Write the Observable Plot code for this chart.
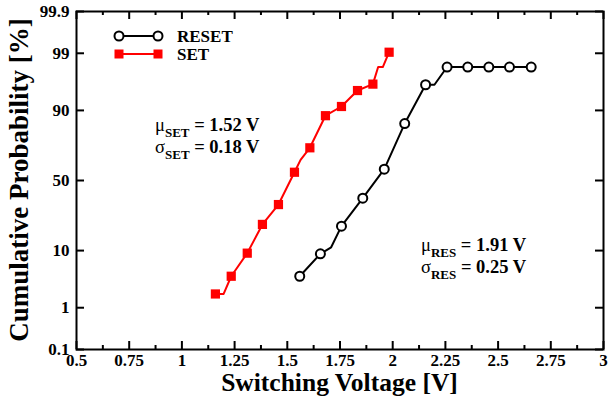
<!DOCTYPE html>
<html><head><meta charset="utf-8">
<script src="https://cdn.jsdelivr.net/npm/d3@7"></script>
<script src="https://cdn.jsdelivr.net/npm/@observablehq/plot@0.6"></script>
<style>body{margin:0;background:#fff}</style>
</head><body><div id="chart"></div>
<script>
// ---- data ----
const resetV = [1.559, 1.657, 1.757, 1.858, 1.960, 2.057, 2.156, 2.258, 2.356, 2.456, 2.554, 2.657];
const resetP = [4.0, 9.0, 20.2, 37.3, 58.2, 85.1, 96.0, 98.1, 98.1, 98.1, 98.1, 98.1];
const setV = [1.159, 1.234, 1.310, 1.382, 1.458, 1.534, 1.607, 1.681, 1.757, 1.833, 1.906, 1.983];
const setP = [1.9, 4.0, 9.2, 21.1, 33.0, 56.0, 72.5, 88.2, 91.2, 95.0, 96.1, 99.05];
// extra vertices of the connecting lines (small steps between markers)
const resetKinkV = [1.708, 2.198];
const resetKinkP = [11.1, 96.0];
const setKinkV = [1.198, 1.563, 1.931, 1.953];
const setKinkP = [1.9, 64.7, 98.1, 98.1];
const xTickVals = [0.5, 0.75, 1, 1.25, 1.5, 1.75, 2, 2.25, 2.5, 2.75, 3];
const xTickLabels = ["0.5", "0.75", "1", "1.25", "1.5", "1.75", "2", "2.25", "2.5", "2.75", "3"];
const xMinorVals = [0.625, 0.875, 1.125, 1.375, 1.625, 1.875, 2.125, 2.375, 2.625, 2.875];
const yTickVals = [0.1, 1, 10, 50, 90, 99, 99.9];
const yTickLabels = ["0.1", "1", "10", "50", "90", "99", "99.9"];

// inverse normal CDF (probability scale)
function probit(p){
  const a=[-3.969683028665376e+01,2.209460984245205e+02,-2.759285104469687e+02,1.383577518672690e+02,-3.066479806614716e+01,2.506628277459239e+00];
  const b=[-5.447609879822406e+01,1.615858368580409e+02,-1.556989798598866e+02,6.680131188771972e+01,-1.328068155288572e+01];
  const c=[-7.784894002430293e-03,-3.223964580411365e-01,-2.400758277161838e+00,-2.549732539343734e+00,4.374664141464968e+00,2.938163982698783e+00];
  const d=[7.784695709041462e-03,3.224671290700398e-01,2.445134137142996e+00,3.754408661907416e+00];
  const pl=0.02425;
  if(p<pl){const q=Math.sqrt(-2*Math.log(p));return (((((c[0]*q+c[1])*q+c[2])*q+c[3])*q+c[4])*q+c[5])/((((d[0]*q+d[1])*q+d[2])*q+d[3])*q+1);}
  if(p>1-pl){const q=Math.sqrt(-2*Math.log(1-p));return -(((((c[0]*q+c[1])*q+c[2])*q+c[3])*q+c[4])*q+c[5])/((((d[0]*q+d[1])*q+d[2])*q+d[3])*q+1);}
  const q=p-0.5,r=q*q;return (((((a[0]*r+a[1])*r+a[2])*r+a[3])*r+a[4])*r+a[5])*q/(((((b[0]*r+b[1])*r+b[2])*r+b[3])*r+b[4])*r+1);
}

const toRows = (V, P) => V.map((v, i) => ({v, p: P[i], z: probit(P[i] / 100)}));
const reset = toRows(resetV, resetP);
const set = toRows(setV, setP);
const resetLine = reset.concat(toRows(resetKinkV, resetKinkP)).sort((a, b) => a.v - b.v);
const setLine = set.concat(toRows(setKinkV, setKinkP)).sort((a, b) => a.v - b.v);
const zTicks = yTickVals.map(p => probit(p / 100));

const W = 610, H = 407, mL = 76, mR = 7, mT = 11, mB = 58;
const iW = W - mL - mR, iH = H - mT - mB;
const FONT = '"Liberation Serif", "Times New Roman", serif';

const chart = Plot.plot({
  width: W, height: H,
  marginLeft: mL, marginRight: mR, marginTop: mT, marginBottom: mB,
  x: {domain: [0.5, 3]},
  y: {domain: [zTicks[0], zTicks[zTicks.length - 1]]},
  style: {fontFamily: FONT, fontWeight: "bold", fontSize: "17px", color: "#000", background: "#fff"},
  marks: [
    Plot.axisX(xTickVals, {tickSize: 0, tickPadding: 4, fontSize: 17, label: null,
      tickFormat: d => xTickLabels[xTickVals.findIndex(t => Math.abs(t - d) < 1e-9)]}),
    Plot.axisY(zTicks, {tickSize: 0, tickPadding: 7, fontSize: 17, label: null,
      tickFormat: d => yTickLabels[zTicks.findIndex(t => Math.abs(t - d) < 1e-9)]}),
    // inward ticks on all four sides
    Plot.tickX(xTickVals, {x: d => d, insetTop: iH - 8, stroke: "black", strokeWidth: 2}),
    Plot.tickX(xTickVals, {x: d => d, insetBottom: iH - 8, stroke: "black", strokeWidth: 2}),
    Plot.tickX(xMinorVals, {x: d => d, insetTop: iH - 4, stroke: "black", strokeWidth: 2}),
    Plot.tickX(xMinorVals, {x: d => d, insetBottom: iH - 4, stroke: "black", strokeWidth: 2}),
    Plot.tickY(zTicks, {y: d => d, insetRight: iW - 8, stroke: "black", strokeWidth: 2}),
    Plot.tickY(zTicks, {y: d => d, insetLeft: iW - 8, stroke: "black", strokeWidth: 2}),
    Plot.frame({stroke: "black", strokeWidth: 2}),
    Plot.line(resetLine, {x: "v", y: "z", stroke: "black", strokeWidth: 2}),
    Plot.dot(reset, {x: "v", y: "z", r: 4.5, fill: "white", stroke: "black", strokeWidth: 2}),
    Plot.line(setLine, {x: "v", y: "z", stroke: "#ff0000", strokeWidth: 2}),
    Plot.dot(set, {x: "v", y: "z", symbol: "square", r: 5.2, fill: "#ff0000", stroke: "none"})
  ]
});
document.getElementById("chart").appendChild(chart);

const svg = d3.select(chart);
const g = svg.append("g").attr("font-family", FONT).attr("font-weight", "bold")
  .attr("fill", "black").attr("text-anchor", "start");

// axis titles
g.append("text").attr("x", mL + iW / 2).attr("y", 391).attr("text-anchor", "middle")
  .attr("font-size", 25.5).text("Switching Voltage [V]");
g.append("text").attr("transform", `translate(28,${mT + iH / 2}) rotate(-90)`).attr("text-anchor", "middle")
  .attr("font-size", 27).text("Cumulative Probability [%]");

// legend
const leg = [
  {label: "RESET", y: 36, color: "black", sym: "circle"},
  {label: "SET", y: 54, color: "#ff0000", sym: "square"}
];
leg.forEach(l => {
  g.append("line").attr("x1", 119).attr("x2", 158).attr("y1", l.y).attr("y2", l.y)
    .attr("stroke", l.color).attr("stroke-width", 2);
  [119, 158].forEach(cx => {
    if (l.sym === "circle") g.append("circle").attr("cx", cx).attr("cy", l.y).attr("r", 4.5)
      .attr("fill", "white").attr("stroke", "black").attr("stroke-width", 2);
    else g.append("rect").attr("x", cx - 4.5).attr("y", l.y - 4.5).attr("width", 9).attr("height", 9)
      .attr("fill", l.color);
  });
  g.append("text").attr("x", 177).attr("y", l.y + 6).attr("text-anchor", "start")
    .attr("font-size", 17).text(l.label);
});

// statistics annotations
function stat(x, y, sym, sub, rest) {
  const t = g.append("text").attr("x", x).attr("y", y).attr("font-size", 18.5).attr("text-anchor", "start");
  t.append("tspan").attr("font-weight", "normal").text(sym);
  t.append("tspan").attr("font-size", 13).attr("dy", 6).text(sub);
  t.append("tspan").attr("dy", -6).text(" = " + rest);
}
stat(155, 131, "μ", "SET", "1.52 V");
stat(155, 153, "σ", "SET", "0.18 V");
stat(421, 251, "μ", "RES", "1.91 V");
stat(421, 273, "σ", "RES", "0.25 V");
</script></body></html>
